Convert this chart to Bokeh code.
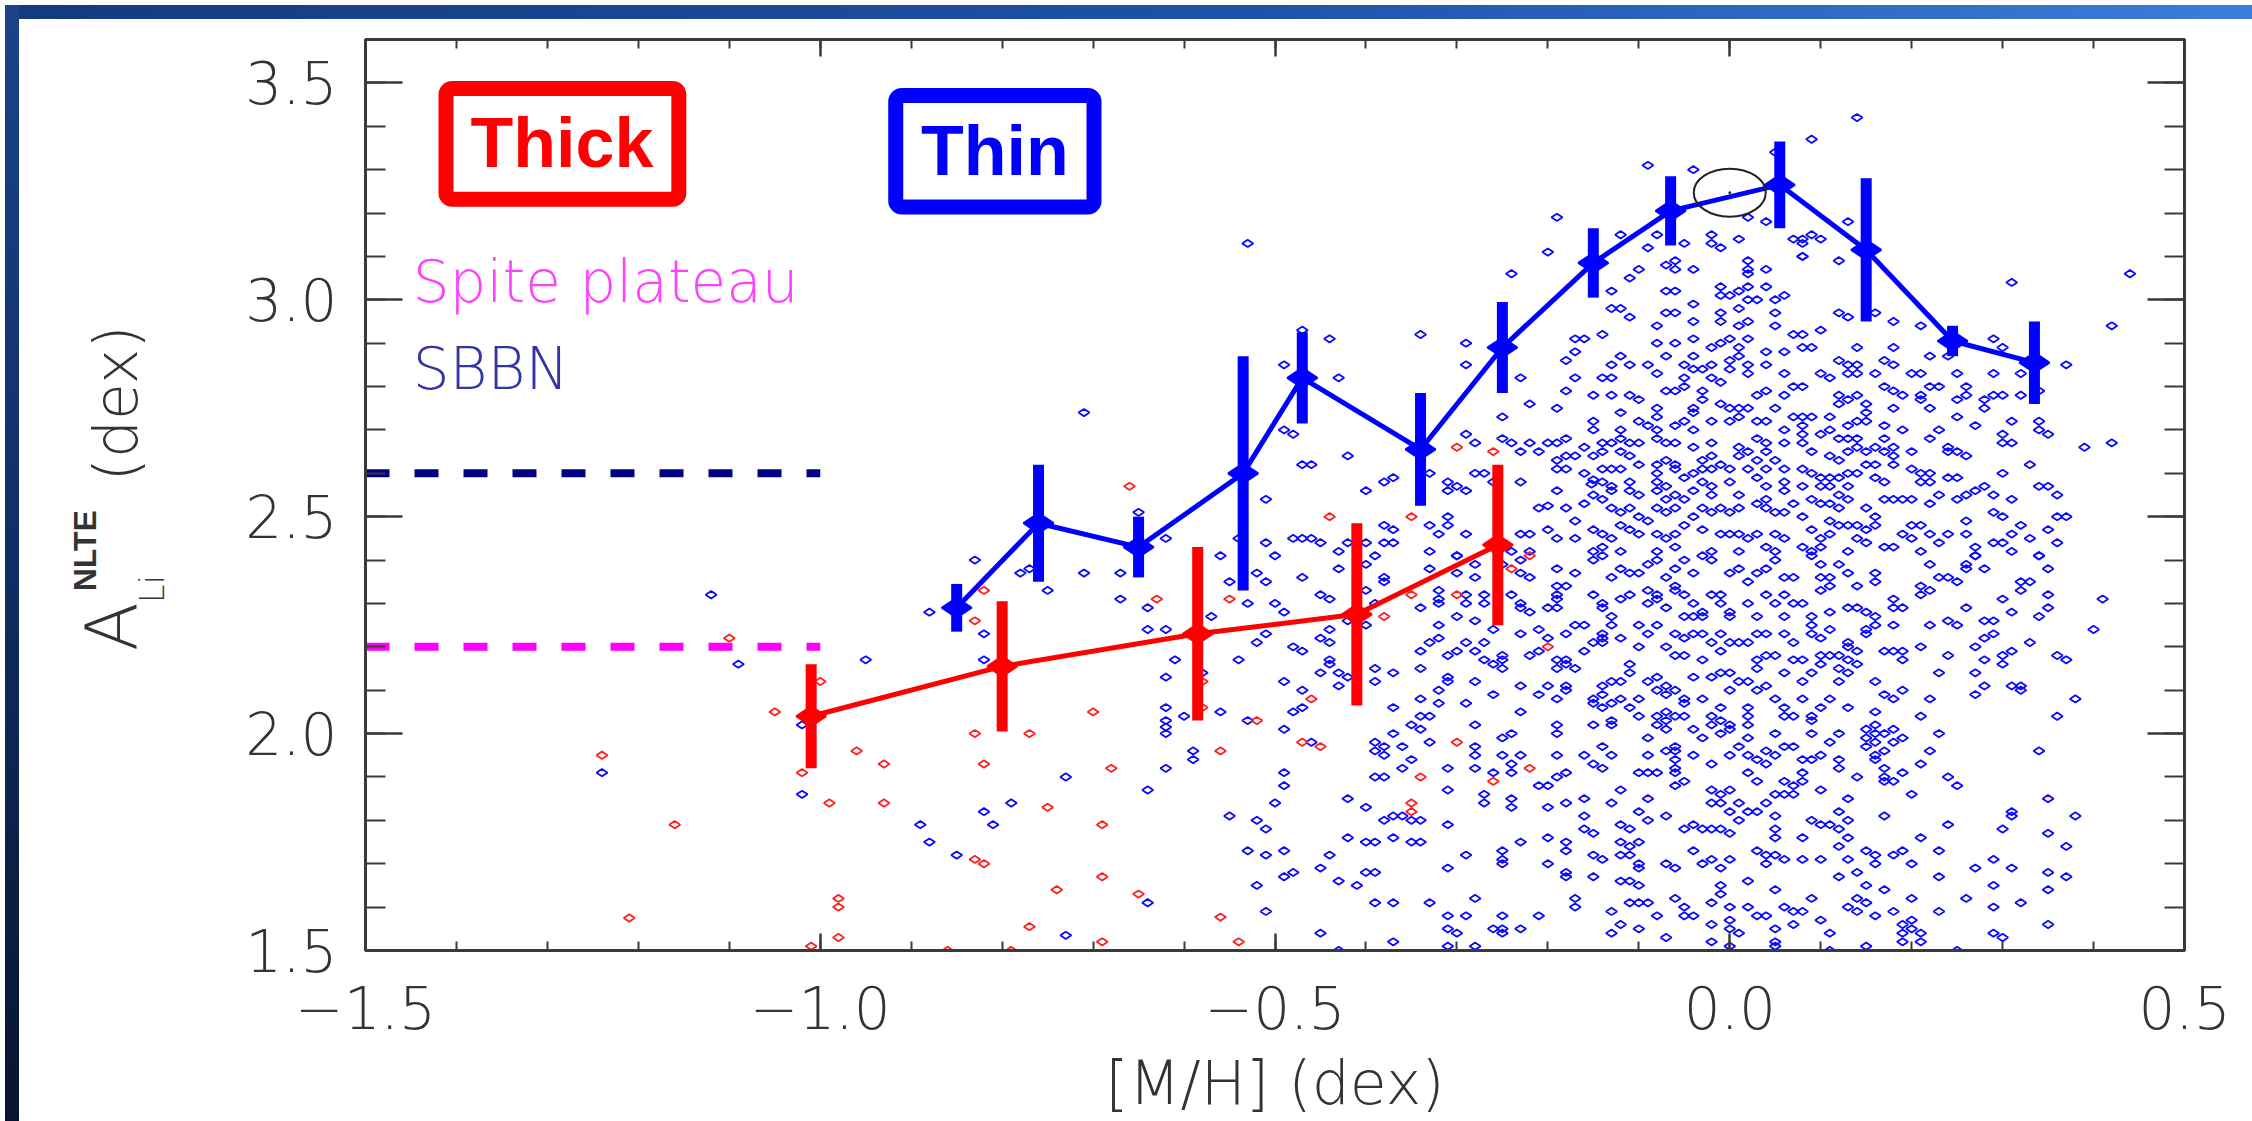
import numpy as np
from bokeh.plotting import figure
from bokeh.models import (Range1d, LinearAxis, FixedTicker, CustomJSTickFormatter,
                          Label, BoxAnnotation, Div)
from bokeh.layouts import column, row
from bokeh.embed import file_html
from bokeh.resources import INLINE

# ---------------- data ----------------
# binned means (thin disc, blue)
thin_mean_mh = [-0.85, -0.76, -0.65, -0.535, -0.47, -0.34, -0.25, -0.15, -0.065, 0.055, 0.15, 0.245, 0.335]
thin_mean_li = [2.29, 2.485, 2.43, 2.60, 2.82, 2.655, 2.89, 3.085, 3.205, 3.265, 3.115, 2.905, 2.855]
thin_mean_err = [0.055, 0.135, 0.07, 0.27, 0.105, 0.13, 0.105, 0.08, 0.08, 0.10, 0.165, 0.035, 0.095]
# binned means (thick disc, red)
thick_mean_mh = [-1.01, -0.80, -0.585, -0.41, -0.255]
thick_mean_li = [2.04, 2.155, 2.23, 2.275, 2.435]
thick_mean_err = [0.12, 0.15, 0.20, 0.21, 0.185]

# reference levels
sbbn_level = 2.6
spite_level = 2.2
level_mh = [-1.5, -1.0]
sun_mh = [0.0]
sun_li = [3.247]

x_ticks = [-1.5, -1.0, -0.5, 0.0, 0.5]
y_ticks = [1.5, 2.0, 2.5, 3.0, 3.5]

# individual stars, thick disc (red)
thick_stars = [
(-0.30,2.66),(-0.26,2.65),(-0.22,2.41),(-0.24,2.38),(-0.30,2.32),(-0.20,2.20),(-0.30,1.98),(-0.34,1.90),
(-0.26,1.89),(-0.22,1.92),(-0.66,2.57),(-0.44,2.50),(-0.35,2.50),(-0.82,2.33),(-0.83,2.26),(-0.63,2.31),
(-0.55,2.31),(-0.35,2.32),(-0.38,2.27),(-1.10,2.22),(-1.00,2.12),(-1.05,2.05),(-0.70,2.05),(-0.58,2.12),
(-0.58,2.06),(-0.52,2.03),(-0.46,2.08),(-0.56,1.96),(-0.47,1.98),(-0.45,1.97),(-0.83,2.00),(-0.77,2.00),
(-0.96,1.96),(-0.93,1.93),(-0.82,1.93),(-0.68,1.92),(-1.02,1.91),(-0.99,1.84),(-0.93,1.84),(-1.16,1.79),
(-0.75,1.83),(-0.69,1.79),(-0.83,1.71),(-0.82,1.70),(-0.69,1.67),(-0.74,1.64),(-0.65,1.63),(-0.98,1.62),
(-0.98,1.60),(-0.98,1.53),(-1.21,1.575),(-0.77,1.555),(-0.56,1.577),(-0.54,1.52),(-0.69,1.52),(-0.35,1.84),
(-0.35,1.82),(-1.24,1.95),(-1.01,1.51),(-0.94,1.49),(-0.86,1.50),(-0.79,1.50),
]

# individual stars, thin disc (blue)
thin_stars = [
# upper central part
(-0.09,3.31),(-0.04,3.30),(0.05,3.34),(-0.19,3.19),(0.02,3.19),(0.04,3.18),(-0.12,3.15),(-0.08,3.15),
(-0.02,3.15),(0.01,3.14),(0.07,3.14),(-0.09,3.12),(-0.05,3.13),(-0.02,3.13),(-0.01,3.12),(-0.20,3.11),
(0.08,3.10),(-0.07,3.08),(-0.06,3.09),(-0.06,3.07),(-0.10,3.07),(-0.04,3.07),(0.02,3.09),(0.02,3.07),
(0.04,3.07),(-0.24,3.06),(0.02,3.06),(-0.11,3.05),(-0.01,3.03),(0.02,3.03),(0.04,3.03),(0.01,3.02),
(-0.13,3.02),(-0.07,3.02),(-0.06,3.02),(-0.01,3.01),(0.00,3.01),(0.02,3.00),(0.03,3.00),(0.05,3.00),
(0.06,3.01),(-0.13,2.98),(-0.12,2.98),(-0.11,2.96),(-0.07,2.97),(-0.06,2.97),(-0.04,2.99),(-0.01,2.97),
(0.01,2.98),(0.05,2.97),(-0.08,2.94),(-0.04,2.95),(-0.01,2.95),(0.01,2.94),(0.02,2.95),(0.05,2.94),
(-0.34,2.92),(-0.29,2.90),(-0.17,2.91),(-0.16,2.91),(-0.14,2.92),(-0.08,2.90),(-0.06,2.90),(-0.04,2.91),
(-0.02,2.89),(0.00,2.91),(0.02,2.91),(0.01,2.89),(-0.01,2.90),(0.04,2.88),(0.06,2.88),(0.07,2.92),
(-0.29,2.85),(-0.18,2.86),(-0.17,2.88),(-0.12,2.87),(-0.13,2.85),(-0.11,2.85),(-0.09,2.85),(-0.07,2.87),
(-0.04,2.87),(-0.03,2.84),(-0.05,2.85),(-0.04,2.84),(-0.02,2.85),(0.00,2.86),(0.01,2.87),(0.02,2.85),
(0.04,2.85),(-0.23,2.82),(-0.17,2.82),(-0.14,2.82),(-0.13,2.82),(-0.08,2.83),(-0.05,2.82),(-0.02,2.82),
(-0.01,2.81),(0.00,2.84),(0.02,2.83),(0.06,2.83),(-0.18,2.79),(-0.15,2.78),(-0.13,2.78),(-0.11,2.78),
(-0.10,2.77),(-0.07,2.79),(-0.06,2.79),(-0.05,2.80),(-0.03,2.79),(0.04,2.79),(0.03,2.78),(0.06,2.78),
(0.07,2.80),(-0.25,2.73),(-0.22,2.76),(-0.19,2.75),(-0.12,2.74),(-0.08,2.75),(-0.08,2.73),(-0.04,2.75),
(-0.04,2.74),(-0.03,2.77),(-0.01,2.76),(0.00,2.75),(0.01,2.75),(0.02,2.75),(0.05,2.75),(0.07,2.73),
(-0.15,2.72),(-0.15,2.70),(-0.12,2.70),(-0.10,2.72),(-0.09,2.71),(-0.08,2.70),(-0.06,2.71),(-0.05,2.72),
(-0.04,2.70),(-0.02,2.72),(0.00,2.72),(0.01,2.73),(0.03,2.72),(0.04,2.72),(0.06,2.70),(-0.29,2.69),
(-0.25,2.68),(-0.24,2.67),(-0.28,2.67),(-0.22,2.67),(-0.20,2.67),(-0.19,2.67),(-0.18,2.68),(-0.16,2.66),
(-0.14,2.67),(-0.13,2.67),(-0.12,2.68),(-0.11,2.67),(-0.10,2.67),(-0.08,2.68),(-0.07,2.67),(-0.06,2.67),
(-0.04,2.66),(-0.02,2.67),(0.01,2.66),(0.03,2.68),(0.04,2.67),(0.06,2.67),(-0.23,2.65),(-0.21,2.65),
(-0.19,2.63),(-0.18,2.64),(-0.17,2.64),(-0.15,2.64),(-0.14,2.65),(-0.12,2.65),(-0.11,2.64),(-0.08,2.62),
(-0.07,2.63),(-0.06,2.62),(-0.03,2.63),(-0.02,2.64),(-0.01,2.62),(0.01,2.64),(0.02,2.65),(0.03,2.63),
(0.04,2.65),(0.05,2.63),(-0.33,2.60),(-0.28,2.60),(-0.27,2.60),(-0.19,2.61),(-0.18,2.61),(-0.16,2.60),
(-0.15,2.585),(-0.14,2.61),(-0.13,2.61),(-0.12,2.61),(-0.10,2.62),(-0.08,2.60),(-0.06,2.61),(-0.04,2.60),
(-0.03,2.61),(-0.02,2.61),(0.00,2.61),(0.02,2.61),(0.04,2.61),(0.06,2.61),(-0.31,2.58),(-0.30,2.57),
(-0.29,2.56),(-0.31,2.56),(-0.26,2.58),(-0.23,2.58),(-0.152,2.575),(-0.14,2.58),(-0.13,2.57),(-0.11,2.58),
(-0.08,2.58),(-0.07,2.57),(-0.05,2.59),(-0.03,2.58),(-0.02,2.57),(0.00,2.58),(0.03,2.59),(0.04,2.57),
(0.06,2.58),(-0.19,2.56),(-0.16,2.53),(-0.15,2.55),(-0.14,2.54),(-0.13,2.56),(-0.11,2.56),(-0.10,2.55),
(-0.08,2.56),(-0.07,2.54),(-0.06,2.55),(-0.05,2.54),(-0.04,2.56),(-0.02,2.55),(-0.01,2.52),(0.01,2.55),
(0.03,2.53),(0.04,2.54),(0.06,2.56),(0.07,2.53),(-0.21,2.52),(-0.20,2.525),(-0.18,2.52),(-0.17,2.49),
(-0.13,2.52),(-0.12,2.51),(-0.11,2.52),(-0.10,2.50),(-0.09,2.49),(-0.08,2.52),(-0.07,2.51),(-0.06,2.52),
(-0.04,2.50),(-0.03,2.52),(-0.02,2.51),(0.00,2.51),(0.01,2.52),(0.04,2.52),(0.05,2.51),(0.06,2.51),
(-0.33,2.48),(-0.31,2.50),(-0.31,2.48),(-0.29,2.46),(-0.32,2.46),(-0.23,2.46),(-0.22,2.46),(-0.20,2.47),
(-0.19,2.45),(-0.17,2.45),(-0.15,2.47),(-0.14,2.46),(-0.13,2.45),(-0.12,2.48),(-0.11,2.47),(-0.10,2.46),
(-0.08,2.46),(-0.07,2.45),(-0.06,2.46),(-0.05,2.48),(-0.03,2.47),(-0.01,2.46),(0.00,2.46),(0.01,2.46),
(0.02,2.45),(0.03,2.46),(0.05,2.46),(0.06,2.45),(-0.33,2.42),(-0.30,2.41),(-0.24,2.42),(-0.22,2.42),
(-0.15,2.42),(-0.14,2.43),(-0.12,2.42),(-0.08,2.42),(-0.06,2.43),(-0.02,2.42),(0.01,2.42),(0.04,2.43),
(0.05,2.42),
# lower central part
(-0.33,2.38),(-0.30,2.41),(-0.28,2.39),(-0.25,2.39),(-0.23,2.40),(-0.19,2.38),(-0.17,2.37),(-0.23,2.37),
(-0.22,2.36),(-0.28,2.36),(-0.30,2.37),(-0.15,2.40),(-0.14,2.41),(-0.12,2.38),(-0.11,2.37),(-0.09,2.39),
(-0.08,2.40),(-0.07,2.36),(-0.06,2.38),(-0.05,2.40),(-0.04,2.37),(-0.03,2.41),(-0.02,2.40),(0.00,2.37),
(0.01,2.38),(0.02,2.35),(0.03,2.37),(0.04,2.38),(0.05,2.40),(0.06,2.36),(0.07,2.36),(-0.10,2.37),
(-0.13,2.36),(-0.32,2.33),(-0.32,2.31),(-0.32,2.30),(-0.34,2.29),(-0.32,2.25),(-0.29,2.32),(-0.29,2.30),
(-0.27,2.32),(-0.27,2.30),(-0.30,2.27),(-0.28,2.26),(-0.24,2.32),(-0.23,2.30),(-0.23,2.29),(-0.22,2.28),
(-0.20,2.29),(-0.19,2.34),(-0.18,2.34),(-0.19,2.32),(-0.19,2.31),(-0.19,2.29),(-0.15,2.32),(-0.14,2.30),
(-0.14,2.29),(-0.13,2.27),(-0.12,2.31),(-0.11,2.32),(-0.09,2.33),(-0.09,2.30),(-0.08,2.32),(-0.08,2.31),
(-0.07,2.29),(-0.06,2.33),(-0.05,2.32),(-0.04,2.30),(-0.03,2.28),(-0.02,2.32),(-0.01,2.32),(-0.01,2.30),
(0.00,2.28),(0.00,2.27),(0.03,2.27),(0.04,2.32),(0.05,2.30),(0.06,2.32),(0.06,2.27),(0.07,2.30),
(0.02,2.30),(-0.04,2.27),(-0.03,2.27),(-0.05,2.27),(-0.06,2.34),(-0.33,2.21),(-0.32,2.22),(-0.34,2.19),
(-0.29,2.21),(-0.27,2.21),(-0.31,2.18),(-0.30,2.19),(-0.28,2.19),(-0.26,2.24),(-0.25,2.18),(-0.25,2.17),
(-0.25,2.15),(-0.27,2.17),(-0.26,2.16),(-0.23,2.23),(-0.21,2.24),(-0.20,2.22),(-0.22,2.18),(-0.21,2.19),
(-0.19,2.17),(-0.19,2.15),(-0.18,2.17),(-0.18,2.23),(-0.17,2.25),(-0.16,2.25),(-0.18,2.16),(-0.17,2.15),
(-0.15,2.21),(-0.14,2.22),(-0.14,2.21),(-0.14,2.23),(-0.16,2.19),(-0.13,2.25),(-0.12,2.22),(-0.11,2.16),
(-0.10,2.20),(-0.09,2.23),(-0.10,2.25),(-0.08,2.25),(-0.07,2.20),(-0.06,2.23),(-0.05,2.22),(-0.06,2.18),
(-0.05,2.18),(-0.04,2.23),(-0.03,2.23),(-0.03,2.17),(-0.02,2.21),(-0.01,2.23),(-0.01,2.19),(0.00,2.21),
(0.01,2.21),(0.02,2.21),(0.03,2.23),(0.04,2.23),(0.03,2.17),(0.03,2.15),(0.04,2.18),(0.05,2.18),
(0.06,2.23),(0.07,2.21),(0.07,2.17),(0.06,2.14),(-0.34,2.15),(-0.31,2.13),(-0.31,2.12),(-0.32,2.10),
(-0.34,2.08),(-0.32,2.07),(-0.28,2.12),(-0.29,2.07),(-0.26,2.09),(-0.23,2.11),(-0.23,2.05),(-0.21,2.09),
(-0.20,2.11),(-0.19,2.08),(-0.18,2.10),(-0.18,2.11),(-0.15,2.07),(-0.14,2.11),(-0.14,2.09),(-0.13,2.12),
(-0.12,2.12),(-0.11,2.14),(-0.12,2.08),(-0.11,2.06),(-0.10,2.08),(-0.14,2.06),(-0.15,2.08),(-0.13,2.07),
(-0.08,2.13),(-0.09,2.12),(-0.08,2.10),(-0.07,2.11),(-0.07,2.09),(-0.06,2.10),(-0.05,2.08),(-0.05,2.07),
(-0.04,2.13),(-0.03,2.08),(-0.02,2.13),(-0.01,2.14),(0.00,2.14),(0.00,2.10),(0.01,2.12),(0.02,2.12),
(0.03,2.10),(0.04,2.11),(0.05,2.08),(0.06,2.06),(0.07,2.04),(-0.01,2.06),(0.02,2.06),(0.06,2.04),
(-0.34,2.04),(-0.33,2.04),(-0.28,2.02),(-0.19,2.02),(-0.19,2.00),(-0.15,2.02),(-0.13,2.03),(-0.13,2.02),
(-0.10,2.04),(-0.08,2.04),(-0.07,2.05),(-0.07,2.03),(-0.06,2.04),(-0.05,2.04),(-0.08,2.02),(-0.07,2.01),
(-0.02,2.04),(-0.02,2.02),(-0.01,2.03),(0.00,2.02),(0.02,2.04),(0.02,2.02),(-0.34,2.01),(-0.33,1.98),
(-0.28,1.97),(-0.28,1.95),(-0.25,1.99),(-0.24,2.00),(-0.25,1.95),(-0.24,1.93),(-0.23,1.95),(-0.19,1.95),
(-0.16,1.95),(-0.15,1.93),(-0.14,1.97),(-0.14,1.92),(-0.13,1.95),(-0.09,1.99),(-0.09,1.95),(-0.09,1.91),
(-0.10,1.91),(-0.08,1.91),(-0.06,1.97),(-0.06,1.96),(-0.06,1.94),(-0.06,1.92),(-0.06,1.91),(-0.06,1.88),
(-0.07,1.96),(-0.05,1.89),(-0.04,2.01),(-0.04,1.95),(-0.03,1.99),(-0.02,1.93),(-0.01,2.00),(0.00,2.01),
(0.00,1.95),(0.01,1.97),(0.02,1.99),(0.02,1.95),(0.03,1.94),(0.04,1.96),(0.05,2.00),(0.05,1.95),
(0.06,1.97),(0.07,1.97),(0.04,1.93),(0.02,1.91),(0.03,1.89),(0.06,1.89),(0.07,1.88),(-0.31,1.92),
(-0.28,1.92),(-0.26,1.91),(-0.24,1.91),(-0.21,1.88),(-0.20,1.88),(-0.19,1.90),(-0.18,1.91),(-0.31,1.87),
(-0.27,1.86),(-0.27,1.84),(-0.24,1.85),(-0.24,1.83),(-0.20,1.83),(-0.18,1.84),(-0.16,1.85),(-0.13,1.84),
(-0.12,1.87),(-0.10,1.82),(-0.09,1.85),(-0.09,1.80),(-0.07,1.81),(-0.05,1.78),(-0.04,1.79),(-0.03,1.78),
(-0.02,1.87),(-0.01,1.86),(0.00,1.87),(-0.02,1.84),(-0.01,1.84),(0.00,1.82),(0.01,1.84),(0.01,1.80),
(0.02,1.82),(0.03,1.82),(0.04,1.84),(0.05,1.86),(0.06,1.86),(0.05,1.81),(0.05,1.78),(0.05,1.76),
(0.07,1.86),(-0.34,1.80),(-0.31,1.79),(-0.34,1.75),(-0.16,1.81),(-0.16,1.78),(-0.15,1.77),(-0.12,1.79),
(-0.11,1.78),(-0.12,1.75),(-0.11,1.74),(-0.10,1.75),(-0.02,1.78),(-0.01,1.78),(0.00,1.77),(-0.18,1.75),
(-0.18,1.73),(-0.23,1.75),(-0.20,1.76),(0.03,1.73),(0.04,1.72),(0.05,1.72),(0.06,1.71),(-0.04,1.73),
(-0.29,1.72),(-0.31,1.69),(-0.25,1.73),(-0.25,1.71),(-0.25,1.70),(-0.20,1.70),(-0.15,1.72),(-0.14,1.71),
(-0.12,1.72),(-0.11,1.72),(-0.10,1.70),(-0.10,1.69),(-0.07,1.70),(-0.06,1.69),(-0.03,1.70),(-0.02,1.71),
(-0.01,1.69),(0.00,1.71),(0.04,1.70),(-0.18,1.68),(-0.18,1.67),(-0.15,1.67),(-0.12,1.66),(-0.11,1.66),
(-0.10,1.65),(0.02,1.66),(-0.01,1.65),(-0.01,1.63),(0.05,1.64),(-0.28,1.62),(-0.33,1.61),(-0.17,1.62),
(-0.17,1.60),(-0.13,1.59),(-0.11,1.61),(-0.10,1.61),(-0.09,1.61),(-0.08,1.58),(-0.06,1.62),(-0.05,1.60),
(-0.04,1.58),(-0.02,1.61),(0.00,1.60),(0.02,1.60),(0.03,1.58),(0.04,1.58),(0.06,1.60),(0.07,1.59),
(-0.05,1.58),(-0.31,1.58),(-0.29,1.58),(-0.25,1.58),(-0.21,1.58),(-0.31,1.55),(-0.30,1.54),(-0.26,1.55),
(-0.25,1.55),(-0.25,1.54),(-0.23,1.55),(-0.12,1.56),(-0.10,1.55),(-0.13,1.54),(-0.07,1.53),(-0.02,1.56),
(0.00,1.57),(0.00,1.55),(0.01,1.54),(0.05,1.55),(0.07,1.56),(0.00,1.51),(-0.02,1.52),(0.05,1.52),
(0.05,1.51),(-0.31,1.51),(-0.28,1.51),
# upper right part
(0.14,3.42),(0.09,3.37),(0.13,3.18),(0.09,3.15),(0.10,3.14),(0.08,3.14),(0.08,3.13),(0.08,3.10),
(0.12,3.09),(0.44,3.06),(0.31,3.04),(0.12,2.97),(0.13,2.96),(0.16,2.97),(0.18,2.95),(0.21,2.94),
(0.08,2.92),(0.10,2.93),(0.42,2.94),(0.29,2.91),(0.30,2.89),(0.08,2.89),(0.09,2.89),(0.14,2.89),
(0.18,2.89),(0.22,2.87),(0.24,2.87),(0.37,2.85),(0.12,2.86),(0.13,2.85),(0.14,2.85),(0.17,2.86),
(0.18,2.85),(0.10,2.83),(0.11,2.82),(0.13,2.83),(0.14,2.83),(0.16,2.83),(0.20,2.83),(0.21,2.83),
(0.25,2.83),(0.29,2.83),(0.32,2.83),(0.08,2.80),(0.17,2.80),(0.18,2.79),(0.19,2.78),(0.22,2.80),
(0.23,2.80),(0.26,2.80),(0.26,2.78),(0.21,2.78),(0.34,2.79),(0.12,2.78),(0.13,2.77),(0.14,2.78),
(0.12,2.76),(0.15,2.76),(0.18,2.75),(0.21,2.77),(0.22,2.75),(0.25,2.77),(0.28,2.77),(0.29,2.78),
(0.30,2.78),(0.28,2.75),(0.32,2.78),(0.08,2.73),(0.09,2.73),(0.11,2.73),(0.15,2.74),(0.14,2.72),
(0.15,2.72),(0.13,2.71),(0.17,2.71),(0.25,2.73),(0.27,2.71),(0.31,2.72),(0.34,2.72),(0.08,2.71),
(0.08,2.69),(0.08,2.67),(0.10,2.69),(0.11,2.70),(0.12,2.68),(0.13,2.68),(0.14,2.68),(0.14,2.66),
(0.16,2.66),(0.17,2.68),(0.18,2.66),(0.19,2.70),(0.22,2.68),(0.23,2.70),(0.24,2.66),(0.25,2.65),
(0.26,2.64),(0.30,2.69),(0.30,2.67),(0.31,2.67),(0.34,2.70),(0.35,2.69),(0.39,2.66),(0.42,2.67),
(0.09,2.65),(0.11,2.64),(0.12,2.63),(0.13,2.65),(0.15,2.65),(0.15,2.62),(0.16,2.62),(0.17,2.65),
(0.18,2.64),(0.18,2.62),(0.20,2.65),(0.24,2.65),(0.33,2.62),(0.08,2.61),(0.09,2.60),(0.10,2.59),
(0.11,2.59),(0.12,2.59),(0.13,2.60),(0.14,2.60),(0.16,2.59),(0.17,2.58),(0.20,2.61),(0.21,2.60),
(0.22,2.60),(0.21,2.58),(0.22,2.58),(0.24,2.59),(0.25,2.59),(0.30,2.60),(0.34,2.57),(0.35,2.57),
(0.36,2.55),(0.08,2.57),(0.10,2.57),(0.11,2.57),(0.13,2.57),(0.12,2.55),(0.13,2.54),(0.09,2.54),
(0.10,2.53),(0.11,2.53),(0.12,2.52),(0.15,2.52),(0.16,2.50),(0.17,2.54),(0.18,2.54),(0.19,2.54),
(0.20,2.54),(0.22,2.53),(0.23,2.55),(0.25,2.54),(0.26,2.55),(0.27,2.56),(0.28,2.57),(0.29,2.55),
(0.31,2.54),(0.29,2.51),(0.30,2.50),(0.36,2.50),(0.37,2.50),(0.08,2.50),(0.11,2.49),(0.12,2.48),
(0.13,2.48),(0.14,2.48),(0.15,2.47),(0.16,2.48),(0.09,2.47),(0.10,2.45),(0.11,2.46),(0.14,2.45),
(0.15,2.44),(0.17,2.43),(0.18,2.43),(0.20,2.48),(0.21,2.48),(0.19,2.46),(0.20,2.45),(0.22,2.46),
(0.23,2.44),(0.24,2.46),(0.26,2.49),(0.26,2.46),(0.27,2.43),(0.29,2.44),(0.30,2.44),(0.31,2.46),
(0.32,2.48),(0.33,2.45),(0.35,2.47),(0.36,2.44),(0.08,2.43),(0.09,2.42),(0.10,2.43),(0.13,2.42),
(0.21,2.42),(0.27,2.41),(0.31,2.42),(0.34,2.41),
# lower right part
(0.09,2.41),(0.10,2.39),(0.12,2.39),(0.13,2.37),(0.10,2.36),(0.11,2.36),(0.10,2.33),(0.11,2.34),
(0.14,2.34),(0.16,2.37),(0.16,2.35),(0.22,2.39),(0.23,2.36),(0.24,2.36),(0.25,2.35),(0.26,2.39),
(0.26,2.38),(0.27,2.41),(0.28,2.38),(0.34,2.41),(0.35,2.38),(0.32,2.35),(0.32,2.33),(0.33,2.35),
(0.21,2.34),(0.22,2.33),(0.21,2.32),(0.35,2.32),(0.30,2.31),(0.41,2.31),(0.08,2.30),(0.13,2.29),
(0.14,2.29),(0.15,2.28),(0.11,2.28),(0.18,2.31),(0.18,2.29),(0.19,2.29),(0.26,2.29),(0.31,2.28),
(0.35,2.29),(0.09,2.27),(0.16,2.27),(0.16,2.25),(0.09,2.25),(0.11,2.24),(0.15,2.24),(0.15,2.23),
(0.18,2.25),(0.22,2.25),(0.24,2.26),(0.25,2.25),(0.28,2.26),(0.29,2.26),(0.34,2.27),(0.40,2.24),
(0.09,2.23),(0.10,2.22),(0.13,2.21),(0.13,2.20),(0.14,2.19),(0.17,2.19),(0.18,2.19),(0.19,2.19),
(0.21,2.20),(0.28,2.22),(0.29,2.23),(0.27,2.20),(0.33,2.21),(0.31,2.19),(0.30,2.18),(0.30,2.16),
(0.24,2.18),(0.28,2.17),(0.36,2.18),(0.37,2.17),(0.08,2.17),(0.10,2.18),(0.11,2.18),(0.12,2.18),
(0.13,2.17),(0.14,2.16),(0.09,2.14),(0.10,2.16),(0.12,2.15),(0.13,2.14),(0.19,2.17),(0.23,2.14),
(0.27,2.14),(0.08,2.12),(0.12,2.12),(0.16,2.12),(0.17,2.09),(0.18,2.08),(0.19,2.10),(0.22,2.08),
(0.27,2.09),(0.28,2.11),(0.31,2.11),(0.32,2.11),(0.32,2.10),(0.38,2.08),(0.08,2.08),(0.11,2.08),
(0.10,2.06),(0.09,2.04),(0.09,2.03),(0.13,2.06),(0.16,2.05),(0.21,2.04),(0.36,2.04),(0.09,2.00),
(0.12,2.00),(0.15,2.01),(0.16,2.02),(0.16,2.00),(0.16,1.98),(0.15,1.99),(0.17,2.00),(0.18,2.01),
(0.18,1.98),(0.19,1.99),(0.23,2.00),(0.11,1.98),(0.10,1.95),(0.09,1.94),(0.08,1.94),(0.12,1.94),
(0.12,1.92),(0.15,1.97),(0.16,1.95),(0.16,1.94),(0.17,1.96),(0.22,1.96),(0.34,1.96),(0.08,1.91),
(0.08,1.89),(0.14,1.90),(0.17,1.92),(0.17,1.90),(0.17,1.89),(0.18,1.89),(0.19,1.91),(0.21,1.93),
(0.24,1.90),(0.25,1.88),(0.10,1.87),(0.13,1.85),(0.20,1.86),(0.35,1.85),(0.12,1.82),(0.13,1.80),
(0.09,1.80),(0.10,1.79),(0.11,1.79),(0.12,1.78),(0.17,1.81),(0.24,1.79),(0.31,1.82),(0.31,1.81),
(0.38,1.81),(0.30,1.78),(0.35,1.77),(0.08,1.76),(0.13,1.76),(0.12,1.74),(0.21,1.76),(0.37,1.74),
(0.15,1.73),(0.16,1.72),(0.18,1.72),(0.19,1.73),(0.23,1.73),(0.08,1.71),(0.10,1.71),(0.13,1.71),
(0.16,1.70),(0.20,1.70),(0.29,1.71),(0.27,1.69),(0.31,1.69),(0.35,1.68),(0.37,1.67),(0.12,1.67),
(0.14,1.68),(0.23,1.67),(0.15,1.65),(0.17,1.64),(0.09,1.62),(0.14,1.62),(0.20,1.62),(0.26,1.62),
(0.29,1.65),(0.35,1.64),(0.15,1.61),(0.13,1.60),(0.14,1.59),(0.08,1.59),(0.16,1.58),(0.18,1.59),
(0.23,1.59),(0.29,1.60),(0.32,1.61),(0.10,1.57),(0.11,1.54),(0.19,1.56),(0.20,1.57),(0.19,1.54),
(0.20,1.55),(0.21,1.54),(0.35,1.56),(0.29,1.54),(0.30,1.53),(0.15,1.51),(0.19,1.52),(0.21,1.52),
(0.11,1.50),(0.25,1.50),
# left part
(-0.71,2.74),(-1.12,2.32),(-1.09,2.16),(-0.95,2.17),(-0.88,2.28),(-0.83,2.40),(-0.82,2.23),(-0.82,2.17),
(-0.78,2.37),(-0.77,2.38),(-0.75,2.33),(-0.71,2.37),(-0.67,2.37),(-0.65,2.51),(-0.62,2.45),(-0.67,2.31),
(-0.64,2.29),(-0.64,2.24),(-0.62,2.24),(-0.61,2.17),(-0.62,2.13),(-0.62,2.06),(-0.62,2.03),(-0.62,2.015),
(-0.62,2.00),(-0.60,2.04),(-0.58,2.14),(-0.57,2.27),(-0.56,2.41),(-0.56,2.05),(-0.55,2.35),(-0.54,2.17),
(-0.54,2.45),(-0.53,2.30),(-0.52,2.37),(-0.52,2.21),(-0.51,2.23),(-0.51,2.54),(-0.51,2.44),(-0.51,2.35),
(-0.50,2.41),(-0.49,2.28),(-0.50,2.30),(-0.49,2.70),(-0.48,2.69),(-0.47,2.62),(-0.46,2.62),(-0.48,2.45),
(-0.47,2.45),(-0.46,2.45),(-0.45,2.44),(-0.47,2.36),(-0.45,2.32),(-0.44,2.31),(-0.43,2.42),(-0.43,2.38),
(-0.42,2.44),(-0.42,2.64),(-0.40,2.56),(-0.38,2.58),(-0.37,2.59),(-0.38,2.48),(-0.37,2.47),(-0.37,2.44),
(-0.40,2.44),(-0.39,2.41),(-0.38,2.44),(-0.40,2.39),(-0.38,2.36),(-0.38,2.35),(-0.40,2.33),(-0.39,2.30),
(-0.40,2.25),(-0.42,2.26),(-0.44,2.24),(-0.45,2.22),(-0.44,2.21),(-0.48,2.20),(-0.47,2.19),(-0.44,2.17),
(-0.44,2.16),(-0.45,2.14),(-0.43,2.14),(-0.42,2.13),(-0.43,2.11),(-0.39,2.12),(-0.39,2.15),(-0.37,2.14),
(-0.49,2.12),(-0.47,2.10),(-0.47,2.06),(-0.48,2.05),(-0.49,2.01),(-0.46,1.98),(-0.37,2.06),(-0.35,2.02),
(-0.53,2.03),(-0.59,1.96),(-0.59,1.94),(-0.62,1.92),(-0.64,1.87),(-0.73,1.90),(-0.79,1.84),(-0.82,1.82),
(-0.81,1.79),(-0.89,1.79),(-0.88,1.75),(-0.85,1.72),(-1.02,1.86),(-1.02,2.02),(-1.24,1.91),(-0.55,1.81),
(-0.52,1.80),(-0.51,1.78),(-0.50,1.84),(-0.49,1.91),(-0.49,1.88),(-0.53,1.73),(-0.51,1.72),(-0.49,1.73),
(-0.49,1.67),(-0.48,1.68),(-0.52,1.65),(-0.51,1.59),(-0.45,1.69),(-0.44,1.72),(-0.42,1.76),(-0.42,1.85),
(-0.40,1.83),(-0.38,1.80),(-0.37,1.81),(-0.36,1.81),(-0.40,1.75),(-0.39,1.75),(-0.37,1.76),(-0.43,1.66),
(-0.41,1.65),(-0.40,1.68),(-0.39,1.68),(-0.39,1.61),(-0.37,1.61),(-0.35,1.75),(-0.35,1.80),(-0.38,1.90),
(-0.39,1.90),(-0.36,1.92),(-0.35,1.94),(-0.38,1.97),(-0.39,1.98),(-0.39,1.96),(-0.38,1.95),(-0.37,2.00),
(-0.36,1.97),(-0.64,1.61),(-0.45,1.54),(-0.73,1.535),(-0.37,1.52),(-0.43,1.50),
(-0.53,3.13),(-0.49,2.85),(-0.47,2.93),(-0.44,2.91),(-0.43,2.82),
]

thin_x = [s[0] for s in thin_stars]
thin_y = [s[1] for s in thin_stars]
thick_x = [s[0] for s in thick_stars]
thick_y = [s[1] for s in thick_stars]

BLUE = "#0000ff"
RED = "#ff0000"
AX = "#3a3a3a"
TXT = "#333333"
FONT = "DejaVu Sans Light, DejaVu Sans"

PAGE_H = 1120
YLAB_W = 200
FRAME_TOP, FRAME_BOTTOM = 39, 952

# ---------------- main plot ----------------
p = figure(width=2252 - YLAB_W, height=PAGE_H, x_range=Range1d(-1.5, 0.5), y_range=Range1d(1.5, 3.6),
           output_backend="svg", toolbar_location=None, title=None,
           min_border_left=365 - YLAB_W, min_border_right=68, min_border_top=FRAME_TOP,
           min_border_bottom=PAGE_H - FRAME_BOTTOM,
           background_fill_color="white", border_fill_color="white")
p.grid.visible = False
p.outline_line_color = AX
p.outline_line_width = 3

xt = FixedTicker(ticks=x_ticks, minor_ticks=[round(-1.5 + 0.1 * i, 2) for i in range(21)])
yt = FixedTicker(ticks=y_ticks, minor_ticks=[round(1.5 + 0.1 * i, 2) for i in range(22)])
fmt = CustomJSTickFormatter(code="return tick.toFixed(1).replace('-', '\\u2212')")


def style_axis(ax, ticker, tin, tmin, labels):
    ax.ticker = ticker
    ax.axis_line_color = AX
    ax.axis_line_width = 3
    ax.major_tick_line_color = AX
    ax.major_tick_line_width = 2.5
    ax.minor_tick_line_color = AX
    ax.minor_tick_line_width = 2
    ax.major_tick_in = tin
    ax.major_tick_out = 0
    ax.minor_tick_in = tmin
    ax.minor_tick_out = 0
    if labels:
        ax.formatter = fmt
        ax.major_label_text_font = FONT
        ax.major_label_text_font_size = "58px"
        ax.major_label_text_color = TXT
    else:
        ax.major_label_text_font_size = "0px"
        ax.major_label_text_alpha = 0


style_axis(p.xaxis[0], xt, 17, 9, True)
style_axis(p.yaxis[0], yt, 37, 20, True)
p.xaxis[0].major_label_standoff = 35
p.yaxis[0].major_label_standoff = 28
p.xaxis[0].axis_label = "[M/H] (dex)"
p.xaxis[0].axis_label_text_font = FONT
p.xaxis[0].axis_label_text_font_size = "60px"
p.xaxis[0].axis_label_text_font_style = "normal"
p.xaxis[0].axis_label_text_color = TXT
p.xaxis[0].axis_label_standoff = 16

top_ax = LinearAxis()
right_ax = LinearAxis()
style_axis(top_ax, xt, 17, 9, False)
style_axis(right_ax, yt, 37, 20, False)
p.add_layout(top_ax, "above")
p.add_layout(right_ax, "right")

# reference levels (SBBN and Spite plateau)
p.line(level_mh, [sbbn_level, sbbn_level], line_color="#000080", line_width=8,
       line_dash="24 25", line_cap="butt")
p.line(level_mh, [spite_level, spite_level], line_color="#ff00ff", line_width=8,
       line_dash="24 25", line_cap="butt")

# individual stars
p.scatter(thin_x, thin_y, marker="diamond", size=11, angle=np.pi / 2,
          fill_color=None, line_color="#0a0aff", line_width=1.8)
p.scatter(thick_x, thick_y, marker="diamond", size=11, angle=np.pi / 2,
          fill_color=None, line_color="#ff2020", line_width=1.8)

# binned means with error bars
for mh, li, er, col in [(thick_mean_mh, thick_mean_li, thick_mean_err, RED),
                        (thin_mean_mh, thin_mean_li, thin_mean_err, BLUE)]:
    lo = [a - e for a, e in zip(li, er)]
    hi = [a + e for a, e in zip(li, er)]
    p.segment(x0=mh, y0=lo, x1=mh, y1=hi, line_color=col, line_width=11)
    p.line(mh, li, line_color=col, line_width=5)
    p.scatter(mh, li, marker="diamond", size=30, angle=np.pi / 2,
              fill_color=col, line_color=col, line_width=2)

# solar value
p.ellipse(x=sun_mh, y=sun_li, width=72, height=48, width_units="screen", height_units="screen",
          fill_color=None, line_color="#222222", line_width=2)
p.scatter(sun_mh, sun_li, size=2, color="#222222")

# legend boxes
p.add_layout(BoxAnnotation(left=-1.4115, right=-1.1555, top=3.487, bottom=3.232,
                           fill_color=None, line_color=RED, line_alpha=1.0, line_width=15,
                           border_radius=6))
p.add_layout(BoxAnnotation(left=-0.917, right=-0.699, top=3.471, bottom=3.214,
                           fill_color=None, line_color=BLUE, line_alpha=1.0, line_width=15,
                           border_radius=6))
p.add_layout(Label(x=-1.284, y=3.361, text="Thick", text_align="center", text_baseline="middle",
                   text_font="Liberation Sans", text_font_style="bold", text_font_size="70px",
                   text_color=RED))
p.add_layout(Label(x=-0.808, y=3.344, text="Thin", text_align="center", text_baseline="middle",
                   text_font="Liberation Sans", text_font_style="bold", text_font_size="70px",
                   text_color=BLUE))
p.add_layout(Label(x=-1.448, y=3.041, text="Spite plateau", text_align="left",
                   text_baseline="middle", text_font=FONT, text_font_size="58px",
                   text_color="#ff40ff"))
p.add_layout(Label(x=-1.448, y=2.840, text="SBBN", text_align="left",
                   text_baseline="middle", text_font=FONT, text_font_size="58px",
                   text_color="#3434a4"))

# ---------------- y-axis title panel (frame aligned with the main frame) ----------------
yl = figure(width=YLAB_W, height=PAGE_H, x_range=Range1d(0, YLAB_W),
            y_range=Range1d(FRAME_BOTTOM, FRAME_TOP),
            output_backend="svg", toolbar_location=None, title=None,
            x_axis_type=None, y_axis_type=None, min_border=0,
            background_fill_color="white", border_fill_color="white")
yl.grid.visible = False
yl.outline_line_color = None
rot = np.pi / 2
yl.add_layout(Label(x=110, y=652, text="A", angle=rot, text_align="left", text_baseline="middle",
                    text_font=FONT, text_font_size="72px", text_color=TXT))
yl.add_layout(Label(x=151, y=604, text="Li", angle=rot, text_align="left", text_baseline="middle",
                    text_font=FONT, text_font_size="34px", text_color=TXT))
yl.add_layout(Label(x=84, y=592, text="NLTE", angle=rot, text_align="left", text_baseline="middle",
                    text_font="Liberation Sans", text_font_style="bold", text_font_size="32px",
                    text_color=TXT))
yl.add_layout(Label(x=115, y=482, text="(dex)", angle=rot, text_align="left", text_baseline="middle",
                    text_font=FONT, text_font_size="60px", text_color=TXT))

# slide frame
top_strip = Div(text="", width=2252, height=14, styles={
    "position": "fixed", "top": "0px", "left": "0px", "width": "2252px", "height": "14px",
    "background": "linear-gradient(90deg, #143a7c 0%, #1e52a8 55%, #3c7ddb 100%)", "z-index": "10"})
left_strip = Div(text="", width=14, height=1121, styles={
    "position": "fixed", "top": "0px", "left": "0px", "width": "14px", "height": "1121px",
    "background": "linear-gradient(180deg, #1a4488 0%, #10306a 45%, #08142e 100%)", "z-index": "10"})

layout = column(row(yl, p), top_strip, left_strip)
open("out.html", "w").write(file_html(layout, INLINE))
